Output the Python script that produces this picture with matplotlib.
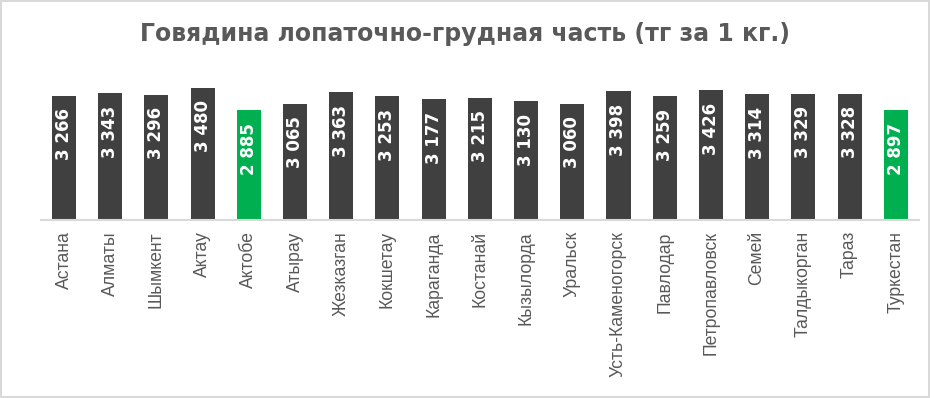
import matplotlib.pyplot as plt
import numpy as np

cities = ["Астана", "Алматы", "Шымкент", "Актау", "Актобе", "Атырау", "Жезказган",
          "Кокшетау", "Караганда", "Костанай", "Кызылорда", "Уральск",
          "Усть-Каменогорск", "Павлодар", "Петропавловск", "Семей", "Талдыкорган",
          "Тараз", "Туркестан"]
prices = [3266, 3343, 3296, 3480, 2885, 3065, 3363, 3253, 3177, 3215, 3130, 3060,
          3398, 3259, 3426, 3314, 3329, 3328, 2897]
highlight = ["Актобе", "Туркестан"]

dark = "#404040"
green = "#00b050"

fig = plt.figure(figsize=(9.3, 3.98), dpi=100)
fig.patch.set_edgecolor("#d9d9d9")
fig.patch.set_linewidth(1.5)
ax = fig.add_axes([0.044, 0.447, 0.944, 0.382])

x = np.arange(len(cities))
colors = [green if c in highlight else dark for c in cities]
bars = ax.bar(x, prices, width=0.52, color=colors)

# подписи значений внутри столбцов
for xi, v in zip(x, prices):
    label = f"{v:,}".replace(",", " ")
    ax.annotate(label, (xi, v), xytext=(0, -9), textcoords="offset points",
                rotation=90, ha="center", va="top", color="white",
                fontsize=12, fontweight="bold", fontfamily="DejaVu Sans")

ax.set_xlim(-0.5, len(cities) - 0.5)
ax.set_ylim(0, 4000)
ax.set_xticks(x)
ax.set_xticklabels(cities, rotation=90, fontsize=12.7, color="#595959",
                   fontfamily="Liberation Sans")
ax.tick_params(axis="x", length=0, pad=8)
ax.set_yticks([])
for s in ["top", "right", "left"]:
    ax.spines[s].set_visible(False)
ax.spines["bottom"].set_color("#d9d9d9")
ax.spines["bottom"].set_linewidth(1.5)

fig.text(0.5, 0.915, "Говядина лопаточно-грудная часть (тг за 1 кг.)",
         ha="center", va="center", fontsize=17, fontweight="bold", color="#595959",
         fontfamily="DejaVu Sans")

fig.savefig("out.png", dpi=100)
